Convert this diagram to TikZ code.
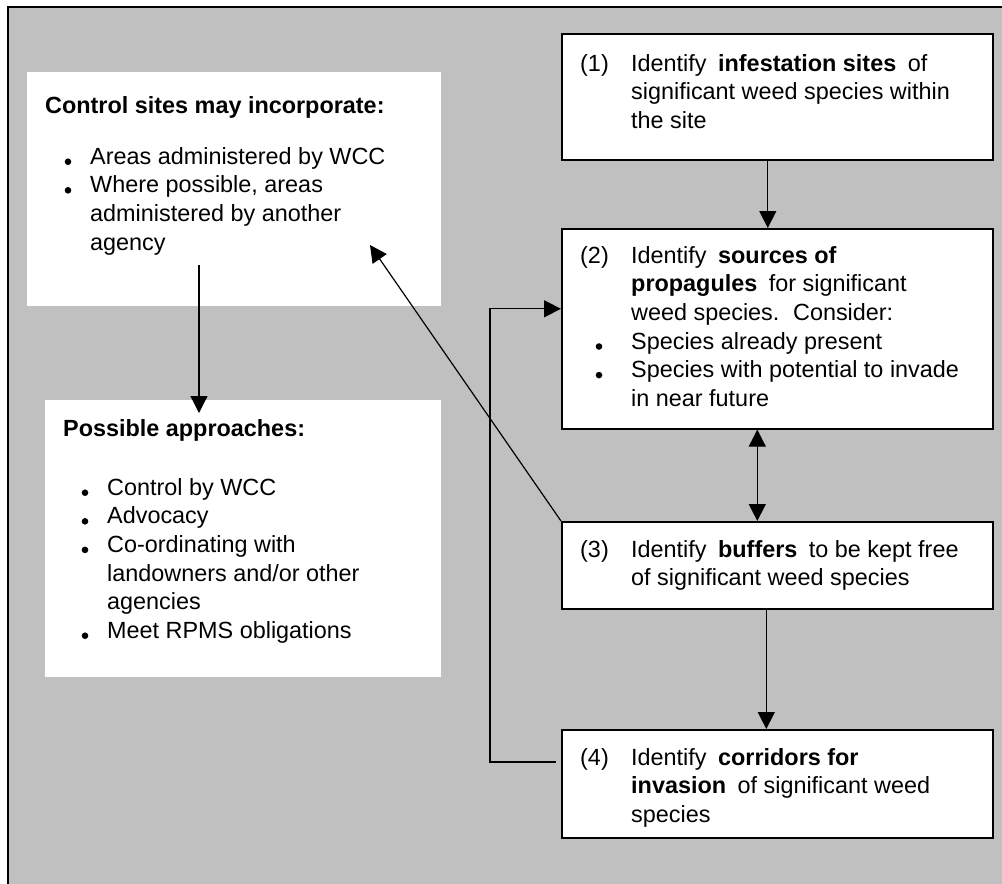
\documentclass[tikz,border=0pt]{standalone}
\usepackage{fontspec}
\setmainfont{Liberation Sans}
\usetikzlibrary{arrows.meta}
\definecolor{panel}{HTML}{C0C0C0}
\newcommand\wdot{\tikz[baseline=-2.5pt]\fill (0pt,0pt) circle[radius=3.3pt];}
\newcommand\kw[1]{\hspace{5pt}\textbf{#1}\hspace{5pt}}
\begin{document}
\begin{tikzpicture}[x=1pt,y=-1pt,
  box/.style={draw,line width=1.6pt,fill=white,inner sep=0pt,anchor=north west},
  note/.style={fill=white,inner sep=0pt,anchor=north west},
  txt/.style={inner sep=0pt,anchor=north west,font=\fontsize{23.4}{28.6}\selectfont},
  arr/.style={line width=1.2pt,-{Triangle[length=17pt,width=17pt]}},
  dbl/.style={line width=1.2pt,{Triangle[length=17pt,width=17pt]}-{Triangle[length=17pt,width=17pt]}}]
\useasboundingbox (0,0) rectangle (1002,884);
\clip (0,0) rectangle (1002,884);
% grey panel, cut off at right and bottom
\fill[panel] (8,7) rectangle (1012,894);
\draw[line width=2pt] (8,894) -- (8,7) -- (1012,7);

% left hand notes
\node[note,minimum width=414,minimum height=234] (ctl) at (27,72) {};
\node[note,minimum width=396,minimum height=277] (apr) at (45,400) {};
\node[txt] (tctl) at (45,93) {\begin{tabular}{@{}p{45pt}@{}l@{}}
\multicolumn{2}{@{}l@{}}{\textbf{Control sites may incorporate:}}\\[22.4pt]
\hspace*{19.5pt}\wdot & Areas administered by WCC\\
\hspace*{19.5pt}\wdot & Where possible, areas\\
 & administered by another\\
 & agency
\end{tabular}};
\node[txt] (tapr) at (63,416) {\begin{tabular}{@{}p{44pt}@{}l@{}}
\multicolumn{2}{@{}l@{}}{\textbf{Possible approaches:}}\\[30.4pt]
\hspace*{18.5pt}\wdot & Control by WCC\\
\hspace*{18.5pt}\wdot & Advocacy\\
\hspace*{18.5pt}\wdot & Co-ordinating with\\
 & landowners and/or other\\
 & agencies\\
\hspace*{18.5pt}\wdot & Meet RPMS obligations
\end{tabular}};

% steps
\node[box,minimum width=431,minimum height=126] (s1) at (561,33) {};
\node[box,minimum width=431,minimum height=200] (s2) at (561,228) {};
\node[box,minimum width=431,minimum height=87] (s3) at (561,521) {};
\node[box,minimum width=431,minimum height=108] (s4) at (561,729) {};
\node[txt] (t1) at (580,51) {\begin{tabular}{@{}p{51pt}@{}l@{}}
(1) & Identify \kw{infestation sites} of\\
 & significant weed species within\\
 & the site
\end{tabular}};
\node[txt] (t2) at (580,243) {\begin{tabular}{@{}p{51pt}@{}l@{}}
(2) & Identify \kw{sources of}\\
 & \textbf{propagules}\hspace{5pt} for significant\\
 & weed species.\hspace{5pt} Consider:\\
\hspace*{15.5pt}\wdot & Species already present\\
\hspace*{15.5pt}\wdot & Species with potential to invade\\
 & in near future
\end{tabular}};
\node[txt] (t3) at (580,537) {\begin{tabular}{@{}p{51pt}@{}l@{}}
(3) & Identify \kw{buffers} to be kept free\\
 & of significant weed species
\end{tabular}};
\node[txt] (t4) at (580,745) {\begin{tabular}{@{}p{51pt}@{}l@{}}
(4) & Identify \kw{corridors for}\\
 & \textbf{invasion}\hspace{5pt} of significant weed\\
 & species
\end{tabular}};

% connectors
\coordinate (srcA) at (199,265);
\coordinate (tipB) at (199,413);
\coordinate (tipA) at (370,245);
\coordinate (fb) at (556,762);
\draw[arr] ([xshift=-9.5pt]s1.south) -- ([xshift=-9.5pt]s2.north);
\draw[dbl] ([xshift=-20pt]s2.south) -- ([xshift=-20pt]s3.north);
\draw[arr] ([xshift=-11pt]s3.south) -- ([xshift=-11pt]s4.north);
\draw[arr] (s3.north west) -- (tipA);
\draw[arr] (srcA) -- (tipB);
\draw[arr] (fb) -- ++(-66,0) |- ([yshift=20pt]s2.west);
\end{tikzpicture}
\end{document}
